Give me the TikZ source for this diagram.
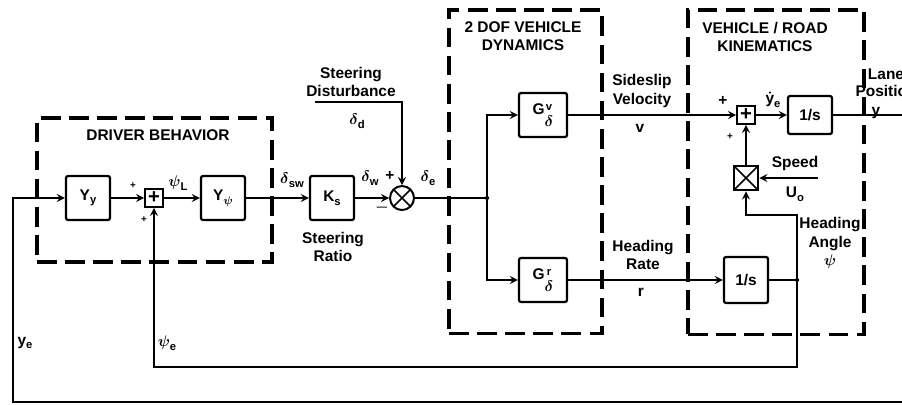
\documentclass[tikz,border=0pt]{standalone}
\usepackage{fontspec}
\setsansfont{Liberation Sans}
\usetikzlibrary{arrows, positioning}
\newcommand{\lowsub}[1]{\raisebox{-0.45ex}{\footnotesize #1}}
\newcommand{\gstack}[1]{\raisebox{-1.5ex}{\shortstack{\footnotesize #1\\[1pt]$\delta$}}}

\begin{document}
\begin{tikzpicture}[
            x=0.025cm, y=-0.025cm,
            font=\sffamily\bfseries\boldmath\fontsize{11}{13}\selectfont,
            block/.style={rectangle, draw, line width=1.6pt, rounded corners=1.5pt, minimum width=1.1cm, minimum height=1.1cm, inner sep=0pt},
            sumbox/.style={rectangle, draw, line width=1.3pt, minimum size=0.45cm, inner sep=0pt, font=\sffamily\bfseries\Large},
            multbox/.style={rectangle, draw, line width=1.4pt, minimum size=0.62cm, inner sep=0pt,
                path picture={\draw[line width=1.2pt] (path picture bounding box.north west) -- (path picture bounding box.south east)
                    (path picture bounding box.south west) -- (path picture bounding box.north east);}},
            mixer/.style={circle, draw, line width=1.4pt, minimum size=0.6cm, inner sep=0pt,
                path picture={\draw[line width=1.2pt] (path picture bounding box.north west) -- (path picture bounding box.south east)
                    (path picture bounding box.south west) -- (path picture bounding box.north east);}},
            groupbox/.style={rectangle, draw, line width=2.2pt, dash pattern=on 14pt off 6pt, inner sep=0pt},
            lbl/.style={align=center, inner sep=1pt},
            arrow/.style={line width=1.5pt, ->, >=stealth},
            wire/.style={line width=1.5pt}
        ]

        \useasboundingbox (0,0) rectangle (902,404);

        % dashed groups
        \node [groupbox, minimum width=5.875cm, minimum height=3.6cm] (driverbox) at (154.5,190) {};
        \node [groupbox, minimum width=3.825cm, minimum height=8.075cm] (dynbox) at (525.5,171.5) {};
        \node [groupbox, minimum width=4.4cm, minimum height=8.1cm] (kinbox) at (776,172) {};
        \node [lbl] (drivertitle) at (158,135) {DRIVER BEHAVIOR};
        \node [lbl] (dyntitle) at (523,36) {2 DOF VEHICLE\\DYNAMICS};
        \node [lbl] (kintitle) at (765,37) {VEHICLE / ROAD\\KINEMATICS};

        % blocks
        \node [block] (yy) at (88,198) {Y\lowsub{y}};
        \node [sumbox] (sumd) at (154,198) {+};
        \node [block] (ypsi) at (223,198) {Y\lowsub{$\psi$}};
        \node [block] (ks) at (332,198) {K\lowsub{s}};
        \node [mixer] (mix) at (402,198) {};
        \coordinate (branch) at (487,198);
        \node [block, minimum width=1.2cm] (gv) at (543,115) {G\gstack{v}};
        \node [block, minimum width=1.2cm] (gr) at (543,280) {G\gstack{r}};
        \node [sumbox] (sumv) at (746,115) {+};
        \node [block, minimum height=0.95cm] (intv) at (810,115) {1/s};
        \node [block, minimum height=1.15cm] (intr) at (746,280) {1/s};
        \node [multbox] (mult) at (746,178) {};
        \coordinate (psijoin) at (797,280);
        \coordinate (speed) at (818,178);
        \coordinate (dist) at (315,102);
        \coordinate (yout) at (903,115);
        \coordinate (yback) at (903,402);

        % labels
        \node [lbl, font=\sffamily\bfseries\scriptsize] at (133,186) {+};
        \node [lbl, font=\sffamily\bfseries\scriptsize] at (144,220) {+};
        \node [lbl] (psil) at (178,183) {$\psi$\lowsub{L}};
        \node [lbl] (dsw) at (292,180) {$\delta$\lowsub{sw}};
        \node [lbl] (ratio) at (333,247) {Steering\\Ratio};
        \node [lbl] (dw) at (370,178) {$\delta$\lowsub{w}};
        \node [lbl] at (390,176) {+};
        \node [lbl] at (382,208) {$-$};
        \node [lbl] (de) at (428,178) {$\delta$\lowsub{e}};
        \node [lbl] (disttitle) at (351,82) {Steering\\Disturbance};
        \node [lbl] (dd) at (357,121) {$\delta$\lowsub{d}};
        \node [lbl] (vel) at (642,91) {Sideslip\\Velocity};
        \node [lbl] (vsym) at (640,128) {v};
        \node [lbl] (rate) at (643,255) {Heading\\Rate};
        \node [lbl] (rsym) at (641,292) {r};
        \node [lbl] at (723,101) {+};
        \node [lbl, font=\sffamily\bfseries\scriptsize] at (730,137) {+};
        \node [lbl] (ydot) at (773,100) {\.{y}\lowsub{e}};
        \node [lbl] (lane) at (886,83) {Lane\\[-1pt]Position};
        \node [lbl] (ysym) at (876,113) {y};
        \node [lbl] (speedlbl) at (795,163) {Speed};
        \node [lbl] (u0) at (795,194) {U\lowsub{o}};
        \node [lbl] (anglelbl) at (830,243) {Heading\\Angle\\$\psi$};
        \node [lbl] (ye) at (25,343) {y\lowsub{e}};
        \node [lbl] (psie) at (167,343) {$\psi$\lowsub{e}};

        % connections
        \draw [arrow] (yback) -- +(-890,0) |- (yy);
        \draw [arrow] (yy) -- (sumd);
        \draw [arrow] (sumd) -- (ypsi);
        \draw [arrow] (ypsi) -- (ks);
        \draw [arrow] (ks) -- (mix);
        \draw [arrow] (dist) -| (mix);
        \draw [wire] (mix) -- (branch);
        \draw [arrow] (branch) |- (gv);
        \draw [arrow] (branch) |- (gr);
        \draw [arrow] (gv) -- (sumv);
        \draw [arrow] (sumv) -- (intv);
        \draw [wire] (intv) -- (yout);
        \draw [arrow] (gr) -- (intr);
        \draw [wire] (intr) -- (psijoin);
        \draw [arrow] (psijoin) -- ++(0,-65) -| (mult);
        \draw [arrow] (speed) -- (mult);
        \draw [arrow] (mult) -- (sumv);
        \draw [arrow] (psijoin) -- ++(0,87) -| (sumd);
        \fill (branch) circle (1.5pt);
        \fill (psijoin) circle (1.5pt);
\end{tikzpicture}
\end{document}
